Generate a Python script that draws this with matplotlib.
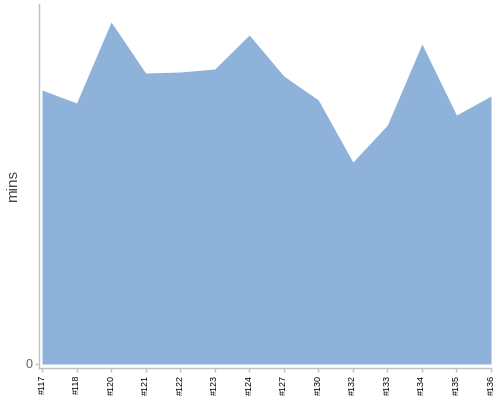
import matplotlib
matplotlib.use("Agg")
import matplotlib.pyplot as plt

# build numbers on the x axis and the time each one took
builds = ["#117", "#118", "#120", "#121", "#122", "#123", "#124",
          "#127", "#130", "#132", "#133", "#134", "#135", "#136"]
mins = [27.4, 26.1, 34.2, 29.1, 29.2, 29.5, 32.9,
        28.8, 26.4, 20.2, 23.9, 32.0, 24.9, 26.8]


def plot_durations(labels, values):
    plt.rcParams["font.family"] = ["Liberation Sans", "DejaVu Sans"]
    fig = plt.figure(figsize=(5, 4), dpi=100)
    # axes box in figure fractions: left 39px, right 491px, top 4px, bottom 368px
    ax = fig.add_axes([39 / 500, 1 - 368 / 400, 452 / 500, 364 / 400])
    xs = list(range(len(labels)))
    ax.fill_between(xs, 0, values, color="#8fb2da", linewidth=0)

    ax.set_xlim(-3 / 34.54, len(labels) - 1)
    ax.set_ylim(-0.4, 36.0)

    for side in ("top", "right"):
        ax.spines[side].set_visible(False)
    for side in ("left", "bottom"):
        ax.spines[side].set_color("#c0c0c0")
        ax.spines[side].set_linewidth(1)

    ax.set_xticks(xs)
    ax.set_xticklabels(labels, rotation=90, fontsize=6.5, color="black")
    ax.set_yticks([0])
    ax.set_yticklabels(["0"], fontsize=9, color="#666666")
    ax.tick_params(axis="both", color="#c0c0c0", length=3, width=1, pad=2)

    ax.set_ylabel("mins", fontsize=11, color="#444444")
    ax.yaxis.label.set_va("center")
    ax.yaxis.set_label_coords(-0.058, 0.5)

    fig.savefig("out.png", dpi=100)


def main():
    plot_durations(builds, mins)


if __name__ == "__main__":
    main()
